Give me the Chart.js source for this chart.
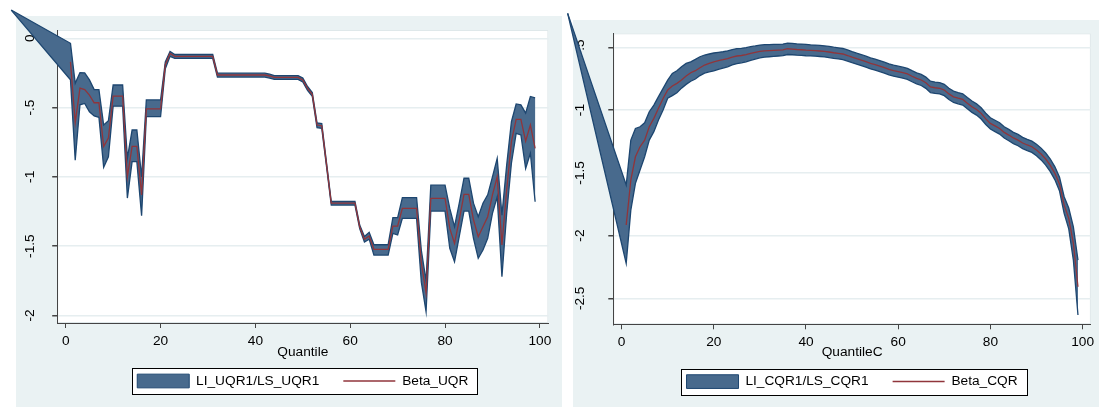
<!DOCTYPE html>
<html>
<head>
<meta charset="utf-8">
<script src="https://cdn.jsdelivr.net/npm/chart.js@4.4.1/dist/chart.umd.min.js"></script>
<style>
    html, body { margin: 0; padding: 0; background: #fff; }
    body { width: 1099px; height: 407px; position: relative; overflow: hidden; }
    #graficoUQR { position: absolute; left: 0; top: 0; }
    #graficoCQR { position: absolute; left: 562px; top: 0; }
</style>
</head>
<body>
<canvas id="graficoUQR" width="562" height="407"></canvas>
<canvas id="graficoCQR" width="537" height="407"></canvas>
<script>
// Cuantiles (eje x)
const cuantiles = [
    1, 2, 3, 4, 5, 6, 7, 8, 9, 10, 11, 12, 13, 14, 15, 16, 17, 18, 19, 20,
    21, 22, 23, 24, 25, 26, 27, 28, 29, 30, 31, 32, 33, 34, 35, 36, 37, 38, 39, 40,
    41, 42, 43, 44, 45, 46, 47, 48, 49, 50, 51, 52, 53, 54, 55, 56, 57, 58, 59, 60,
    61, 62, 63, 64, 65, 66, 67, 68, 69, 70, 71, 72, 73, 74, 75, 76, 77, 78, 79, 80,
    81, 82, 83, 84, 85, 86, 87, 88, 89, 90, 91, 92, 93, 94, 95, 96, 97, 98, 99
];

// Panel UQR
const betaUQR = [
    -0.17, -0.61, -0.36, -0.37, -0.41, -0.465, -0.465, -0.78, -0.72, -0.417,
    -0.417, -0.417, -1.0, -0.78, -0.78, -1.13, -0.51, -0.51, -0.51, -0.51,
    -0.19, -0.11, -0.13, -0.13, -0.13, -0.13, -0.13, -0.13, -0.13, -0.13,
    -0.13, -0.265, -0.265, -0.265, -0.265, -0.265, -0.265, -0.265, -0.265, -0.265,
    -0.265, -0.265, -0.272, -0.282, -0.282, -0.282, -0.282, -0.282, -0.282, -0.30,
    -0.361, -0.404, -0.626, -0.631, -0.91, -1.19, -1.19, -1.19, -1.19, -1.19,
    -1.19, -1.36, -1.45, -1.427, -1.523, -1.523, -1.523, -1.523, -1.355, -1.355,
    -1.228, -1.228, -1.228, -1.228, -1.62, -1.84, -1.155, -1.155, -1.155, -1.155,
    -1.372, -1.48, -1.31, -1.126, -1.126, -1.31, -1.432, -1.36, -1.288, -1.13,
    -1.0, -1.492, -1.095, -0.746, -0.585, -0.585, -0.742, -0.626, -0.794
];
const lsUQR = [
    -0.036, -0.325, -0.248, -0.25, -0.30, -0.37, -0.37, -0.626, -0.595, -0.337,
    -0.337, -0.337, -0.865, -0.662, -0.662, -1.0, -0.445, -0.445, -0.445, -0.445,
    -0.17, -0.095, -0.117, -0.117, -0.117, -0.117, -0.117, -0.117, -0.117, -0.117,
    -0.117, -0.252, -0.252, -0.252, -0.252, -0.252, -0.252, -0.252, -0.252, -0.252,
    -0.252, -0.252, -0.259, -0.269, -0.269, -0.269, -0.269, -0.269, -0.269, -0.287,
    -0.348, -0.391, -0.61, -0.615, -0.897, -1.178, -1.178, -1.178, -1.178, -1.178,
    -1.178, -1.348, -1.43, -1.40, -1.49, -1.49, -1.49, -1.49, -1.295, -1.295,
    -1.15, -1.15, -1.15, -1.15, -1.53, -1.75, -1.06, -1.06, -1.06, -1.06,
    -1.228, -1.36, -1.19, -1.01, -1.01, -1.19, -1.288, -1.19, -1.13, -1.0,
    -0.867, -1.276, -0.915, -0.602, -0.474, -0.48, -0.54, -0.42, -0.43
];
const liUQR = [
    -0.30, -0.88, -0.48, -0.47, -0.53, -0.56, -0.57, -0.93, -0.855, -0.49,
    -0.49, -0.49, -1.153, -0.89, -0.89, -1.28, -0.566, -0.566, -0.566, -0.566,
    -0.22, -0.13, -0.145, -0.145, -0.145, -0.145, -0.145, -0.145, -0.145, -0.145,
    -0.145, -0.28, -0.28, -0.28, -0.28, -0.28, -0.28, -0.28, -0.28, -0.28,
    -0.28, -0.28, -0.287, -0.297, -0.297, -0.297, -0.297, -0.297, -0.297, -0.315,
    -0.376, -0.419, -0.645, -0.65, -0.925, -1.204, -1.204, -1.204, -1.204, -1.204,
    -1.204, -1.374, -1.47, -1.45, -1.565, -1.565, -1.565, -1.565, -1.408, -1.42,
    -1.30, -1.30, -1.30, -1.30, -1.76, -1.974, -1.247, -1.247, -1.247, -1.247,
    -1.516, -1.613, -1.43, -1.247, -1.247, -1.444, -1.588, -1.528, -1.444, -1.264,
    -1.144, -1.72, -1.264, -0.902, -0.686, -0.698, -0.94, -0.83, -1.18
];
// vértice suelto con el que empieza el área (x, y)
const inicioUQR = [-11.5, 0.204];

// Panel CQR
const betaCQR = [
    -1.916, -1.558, -1.372, -1.292, -1.239, -1.133, -1.066, -0.986, -0.907, -0.840,
    -0.808, -0.787, -0.761, -0.729, -0.702, -0.686, -0.662, -0.641, -0.628, -0.615,
    -0.605, -0.598, -0.590, -0.578, -0.569, -0.565, -0.558, -0.548, -0.540, -0.532,
    -0.528, -0.526, -0.524, -0.522, -0.520, -0.511, -0.514, -0.517, -0.519, -0.522,
    -0.524, -0.526, -0.529, -0.532, -0.537, -0.543, -0.548, -0.553, -0.565, -0.578,
    -0.590, -0.601, -0.614, -0.628, -0.638, -0.649, -0.662, -0.675, -0.686, -0.694,
    -0.702, -0.711, -0.730, -0.747, -0.760, -0.782, -0.815, -0.822, -0.826, -0.840,
    -0.871, -0.894, -0.905, -0.915, -0.945, -0.973, -0.995, -1.026, -1.070, -1.106,
    -1.126, -1.146, -1.178, -1.199, -1.222, -1.239, -1.262, -1.278, -1.292, -1.318,
    -1.350, -1.390, -1.440, -1.504, -1.590, -1.757, -1.863, -2.062, -2.408
];
const lsCQR = [
    -1.597, -1.239, -1.146, -1.133, -1.101, -1.013, -0.960, -0.893, -0.827, -0.761,
    -0.708, -0.686, -0.654, -0.628, -0.615, -0.596, -0.575, -0.561, -0.553, -0.545,
    -0.540, -0.535, -0.528, -0.518, -0.510, -0.508, -0.503, -0.495, -0.489, -0.482,
    -0.479, -0.478, -0.477, -0.476, -0.474, -0.466, -0.469, -0.472, -0.474, -0.477,
    -0.480, -0.482, -0.485, -0.488, -0.493, -0.499, -0.504, -0.509, -0.521, -0.534,
    -0.546, -0.557, -0.570, -0.584, -0.594, -0.605, -0.618, -0.631, -0.642, -0.650,
    -0.658, -0.667, -0.686, -0.703, -0.716, -0.737, -0.770, -0.777, -0.781, -0.795,
    -0.826, -0.849, -0.860, -0.870, -0.900, -0.928, -0.950, -0.981, -1.025, -1.061,
    -1.081, -1.101, -1.133, -1.154, -1.177, -1.194, -1.217, -1.233, -1.247, -1.272,
    -1.303, -1.342, -1.390, -1.452, -1.535, -1.690, -1.780, -1.930, -2.195
];
const liCQR = [
    -2.221, -1.797, -1.584, -1.478, -1.372, -1.239, -1.172, -1.079, -1.000, -0.905,
    -0.885, -0.862, -0.825, -0.795, -0.770, -0.752, -0.725, -0.705, -0.695, -0.688,
    -0.675, -0.665, -0.655, -0.640, -0.630, -0.623, -0.615, -0.603, -0.593, -0.583,
    -0.578, -0.575, -0.572, -0.569, -0.566, -0.557, -0.559, -0.562, -0.564, -0.567,
    -0.568, -0.570, -0.573, -0.576, -0.581, -0.587, -0.592, -0.597, -0.609, -0.622,
    -0.634, -0.645, -0.658, -0.672, -0.682, -0.693, -0.706, -0.719, -0.730, -0.738,
    -0.746, -0.755, -0.774, -0.791, -0.804, -0.827, -0.860, -0.867, -0.871, -0.885,
    -0.916, -0.939, -0.950, -0.960, -0.990, -1.018, -1.040, -1.071, -1.115, -1.151,
    -1.171, -1.191, -1.223, -1.244, -1.267, -1.284, -1.307, -1.323, -1.337, -1.364,
    -1.397, -1.438, -1.490, -1.556, -1.645, -1.823, -1.946, -2.195, -2.633
];
const inicioCQR = [-11.7, -0.229];

// Marcas de los ejes
const xTicks = [0, 20, 40, 60, 80, 100];
const yTicksUQR = [0, -0.5, -1, -1.5, -2];
const yLabelsUQR = ['0', '-.5', '-1', '-1.5', '-2'];
const yTicksCQR = [-0.5, -1, -1.5, -2, -2.5];
const yLabelsCQR = ['-.5', '-1', '-1.5', '-2', '-2.5'];

const fuente = { family: '"Liberation Sans", Arial, sans-serif', size: 13.7 };
const colorArea = '#486a8d';
const colorBorde = '#1d4670';
const colorBeta = '#90353b';
const colorEje = '#444';

// Rellena el área entre el límite superior e inferior (tipo rarea de Stata)
function pluginArea(inicio, ls, li) {
    return {
        id: 'areaIC',
        beforeDatasetsDraw(chart) {
            const { ctx, scales: { x, y } } = chart;
            ctx.save();
            ctx.beginPath();
            ctx.moveTo(x.getPixelForValue(inicio[0]), y.getPixelForValue(inicio[1]));
            for (let i = 0; i < cuantiles.length; i++) {
                ctx.lineTo(x.getPixelForValue(cuantiles[i]), y.getPixelForValue(ls[i]));
            }
            for (let i = cuantiles.length - 1; i >= 0; i--) {
                ctx.lineTo(x.getPixelForValue(cuantiles[i]), y.getPixelForValue(li[i]));
            }
            ctx.closePath();
            ctx.fillStyle = colorArea;
            ctx.fill();
            ctx.restore();
        }
    };
}

// Fondo gris, región blanca del gráfico y marco de la leyenda
const pluginFondo = {
    id: 'fondo',
    beforeDraw(chart, args, opts) {
        const { ctx, chartArea: a } = chart;
        ctx.save();
        ctx.fillStyle = '#eaf2f3';
        ctx.fillRect(opts.left, opts.top, chart.width - opts.left, chart.height - opts.top);
        ctx.fillStyle = '#fff';
        ctx.fillRect(a.left, a.top, a.right - a.left, a.bottom - a.top);
        ctx.strokeStyle = '#dfe8ea';
        ctx.lineWidth = 1;
        ctx.strokeRect(a.left + 0.5, a.top + 0.5, a.right - a.left - 1, a.bottom - a.top - 1);
        const hb = chart.legend.legendHitBoxes;
        if (hb && hb.length) {
            const ult = hb[hb.length - 1];
            const cy = hb[0].top + hb[0].height / 2;
            const x0 = Math.round(hb[0].left - 5.5) + 0.5;
            const x1 = Math.round(ult.left + ult.width + 9) + 0.5;
            const y0 = Math.round(cy - 13) + 0.5;
            const y1 = Math.round(cy + 13) + 0.5;
            ctx.fillStyle = '#fff';
            ctx.fillRect(x0, y0, x1 - x0, y1 - y0);
            ctx.strokeStyle = '#000';
            ctx.strokeRect(x0, y0, x1 - x0, y1 - y0);
        }
        ctx.restore();
    }
};

function crearGrafico(id, c) {
    const ctx = document.getElementById(id).getContext('2d');
    return new Chart(ctx, {
        type: 'line',
        data: {
            datasets: [{
                label: c.nombreBeta,
                data: cuantiles.map((q, i) => ({ x: q, y: c.beta[i] })),
                borderColor: colorBeta,
                borderWidth: 1.3,
                pointRadius: 0,
                fill: false
            }, {
                label: 'LS',
                data: [{ x: c.inicio[0], y: c.inicio[1] }].concat(cuantiles.map((q, i) => ({ x: q, y: c.ls[i] }))),
                borderColor: colorBorde,
                borderWidth: 1.3,
                pointRadius: 0,
                fill: false,
                clip: false
            }, {
                label: 'LI',
                data: [{ x: c.inicio[0], y: c.inicio[1] }].concat(cuantiles.map((q, i) => ({ x: q, y: c.li[i] }))),
                borderColor: colorBorde,
                borderWidth: 1.3,
                pointRadius: 0,
                fill: false,
                clip: false
            }]
        },
        options: {
            responsive: false,
            animation: false,
            events: [],
            layout: { padding: c.padding },
            plugins: {
                fondo: c.fondo,
                tooltip: { enabled: false },
                legend: {
                    position: 'bottom',
                    fullSize: false,
                    labels: {
                        color: '#000',
                        font: fuente,
                        padding: 24,
                        usePointStyle: true,
                        pointStyleWidth: 52,
                        generateLabels: () => [
                            { text: c.nombreArea, fillStyle: colorArea, strokeStyle: colorBorde, lineWidth: 1, pointStyle: 'rect', hidden: false, datasetIndex: 1 },
                            { text: c.nombreBeta, fillStyle: 'rgba(0,0,0,0)', strokeStyle: colorBeta, lineWidth: 1.5, pointStyle: 'line', hidden: false, datasetIndex: 0 }
                        ]
                    }
                }
            },
            scales: {
                x: {
                    type: 'linear',
                    min: -1.8,
                    max: 101.8,
                    afterBuildTicks: s => { s.ticks = xTicks.map(v => ({ value: v })); },
                    afterFit: s => { s.height = c.altoX; },
                    ticks: { color: '#000', font: fuente, padding: 5, maxRotation: 0, autoSkip: false },
                    grid: { drawOnChartArea: false, tickLength: 5, tickColor: colorEje },
                    border: { color: colorEje, width: 1 },
                    title: {
                        display: true,
                        text: c.tituloX,
                        color: '#000',
                        font: fuente,
                        padding: { top: 0, bottom: c.padTitulo }
                    }
                },
                y: {
                    type: 'linear',
                    min: c.yMin,
                    max: c.yMax,
                    afterBuildTicks: s => { s.ticks = c.yTicks.map(v => ({ value: v })); },
                    afterFit: s => { s.width = c.anchoY; },
                    ticks: {
                        color: '#000',
                        font: fuente,
                        padding: c.padY,
                        minRotation: 90,
                        maxRotation: 90,
                        crossAlign: 'center',
                        autoSkip: false,
                        callback: (v, i) => c.yLabels[i]
                    },
                    grid: { color: '#e6eef0', lineWidth: 1.5, tickLength: 5, tickColor: colorEje },
                    border: { color: colorEje, width: 1 }
                }
            }
        },
        plugins: [pluginFondo, pluginArea(c.inicio, c.ls, c.li)]
    });
}

document.addEventListener("DOMContentLoaded", function() {
    crearGrafico('graficoUQR', {
        beta: betaUQR, ls: lsUQR, li: liUQR, inicio: inicioUQR,
        yTicks: yTicksUQR, yLabels: yLabelsUQR, yMin: -2.055, yMax: 0.06,
        nombreArea: 'LI_UQR1/LS_UQR1', nombreBeta: 'Beta_UQR', tituloX: 'Quantile',
        padding: { left: 16, top: 30, right: 13.6, bottom: 9.15 },
        fondo: { left: 16, top: 16 },
        anchoY: 41.2, padY: 10.4, altoX: 27.15, padTitulo: -10.57
    });
    crearGrafico('graficoCQR', {
        beta: betaCQR, ls: lsCQR, li: liCQR, inicio: inicioCQR,
        yTicks: yTicksCQR, yLabels: yLabelsCQR, yMin: -2.707, yMax: -0.388,
        nombreArea: 'LI_CQR1/LS_CQR1', nombreBeta: 'Beta_CQR', tituloX: 'QuantileC',
        padding: { left: 11, top: 33.3, right: 0, bottom: 8.55 },
        fondo: { left: 11, top: 20 },
        anchoY: 40.3, padY: 16.5, altoX: 26.45, padTitulo: -9.97
    });
});
</script>
</body>
</html>
